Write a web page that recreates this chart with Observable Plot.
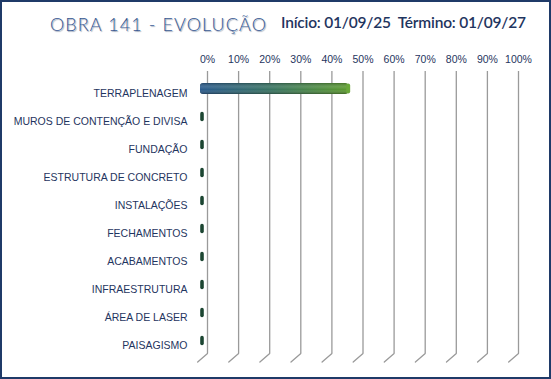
<!DOCTYPE html>
<html>
<head>
<meta charset="utf-8">
<script src="https://cdn.jsdelivr.net/npm/d3@7"></script>
<script src="https://cdn.jsdelivr.net/npm/@observablehq/plot@0.6"></script>
<style>
  html, body { margin: 0; padding: 0; background: #fff; }
  #wrap { position: relative; width: 551px; height: 379px; overflow: hidden; background: #fff; }
  #border { position: absolute; left: 0; top: 0; width: 551px; height: 379px; box-sizing: border-box; border: 2px solid #1f3a68; pointer-events: none; }
  #title { position: absolute; left: 50px; top: 13px; font-family: Lato, "Open Sans", sans-serif; font-size: 18px; font-weight: 300; letter-spacing: 1.1px; color: #34558f;
    text-shadow: -0.5px -0.5px 0 #fff, 1px 1px 1px #9aa5b8; white-space: nowrap; }
  #sub { position: absolute; left: 281px; top: 13px; font-family: Lato, "Open Sans", sans-serif; font-size: 15.5px; color: #1f3560; white-space: nowrap; font-weight: 600; letter-spacing: -0.2px; }
  #chart { position: absolute; left: 0; top: 45px; }
  #chart svg text { font-family: Arial, "Liberation Sans", sans-serif; }
</style>
</head>
<body>
<div id="wrap">
  <div id="title">OBRA 141 - EVOLUÇÃO</div>
  <div id="sub">Início: 01/09/25&nbsp; Término: 01/09/27</div>
  <div id="chart"></div>
  <div id="border"></div>
</div>
<script>
const categories = [
  "TERRAPLENAGEM",
  "MUROS DE CONTENÇÃO E DIVISA",
  "FUNDAÇÃO",
  "ESTRUTURA DE CONCRETO",
  "INSTALAÇÕES",
  "FECHAMENTOS",
  "ACABAMENTOS",
  "INFRAESTRUTURA",
  "ÁREA DE LASER",
  "PAISAGISMO"
];
const progress = [47, 0, 0, 0, 0, 0, 0, 0, 0, 0];
const tickValues = [0, 10, 20, 30, 40, 50, 60, 70, 80, 90, 100];
const tickLabels = ["0%", "10%", "20%", "30%", "40%", "50%", "60%", "70%", "80%", "90%", "100%"];

const data = categories.map((c, i) => ({ category: c, value: progress[i] }));
const active = data.filter(d => d.value > 0);

const navy = "#1f3560";
const bd = 3;

const chart = Plot.plot({
  width: 551,
  height: 334,
  marginTop: 26,
  marginBottom: 26,
  marginLeft: 207,
  marginRight: 33,
  style: { fontSize: "10.5px", color: navy, background: "transparent" },
  x: { domain: [0, 100], ticks: tickValues, tickFormat: (d, i) => tickLabels[i] },
  y: { type: "band", domain: categories, paddingInner: 0.593, paddingOuter: 0.2965, insetTop: 7.2, insetBottom: -7.8, label: null },
  marks: [
    Plot.ruleX(tickValues, { stroke: "#9a9a9a", strokeWidth: 1.3 }),
    Plot.vector(tickValues, {
      x: d => d, frameAnchor: "bottom", rotate: 229, length: 13, anchor: "start",
      stroke: "#9a9a9a", strokeWidth: 1.3,
      shape: { draw(context, l) { context.moveTo(0, 0); context.lineTo(0, -l); } }
    }),
    Plot.axisX({ anchor: "top", ticks: tickValues, tickFormat: (d, i) => tickLabels[i], tickSize: 0, tickPadding: 9, label: null, fontSize: 10.5, fill: navy }),
    Plot.axisY({ tickSize: 0, tickPadding: 20, label: null, fontSize: 10.5, fill: navy }),
    // zero-length cylinder caps
    Plot.barX(data, { y: "category", x1: 0, x2: 0, insetLeft: -1.8, insetRight: -1.8, insetTop: 0.8, insetBottom: 0.8, rx: 2, fill: "#1c4632", dx: -5, dy: -bd - 2 }),
    // main cylinder
    Plot.barX(active, { y: "category", x1: 0, x2: "value", insetLeft: -2, rx: 3, fill: "url(#cylH)", dx: -5, dy: -bd - 2 }),
    Plot.barX(active, { y: "category", x1: 0, x2: "value", insetLeft: -2, rx: 3, fill: "url(#cylV)", dx: -5, dy: -bd - 2 }),
    Plot.barX(active, { y: "category", x1: "value", x2: "value", insetLeft: -2, insetRight: -2, insetTop: 0.5, insetBottom: 0.5, rx: 2, fill: "#6aa83a", dx: -5, dy: -bd - 2 })
  ]
});

const defs = d3.select(chart).insert("defs", ":first-child");
const gh = defs.append("linearGradient").attr("id", "cylH").attr("x1", "0").attr("x2", "1").attr("y1", "0").attr("y2", "0");
gh.append("stop").attr("offset", "0").attr("stop-color", "#2a5a8c");
gh.append("stop").attr("offset", "0.5").attr("stop-color", "#3a7560");
gh.append("stop").attr("offset", "1").attr("stop-color", "#5c9a30");
const gv = defs.append("linearGradient").attr("id", "cylV").attr("x1", "0").attr("x2", "0").attr("y1", "0").attr("y2", "1");
gv.append("stop").attr("offset", "0").attr("stop-color", "#000").attr("stop-opacity", 0.25);
gv.append("stop").attr("offset", "0.35").attr("stop-color", "#fff").attr("stop-opacity", 0.12);
gv.append("stop").attr("offset", "0.6").attr("stop-color", "#fff").attr("stop-opacity", 0.0);
gv.append("stop").attr("offset", "1").attr("stop-color", "#000").attr("stop-opacity", 0.35);

document.getElementById("chart").appendChild(chart);
</script>
</body>
</html>
